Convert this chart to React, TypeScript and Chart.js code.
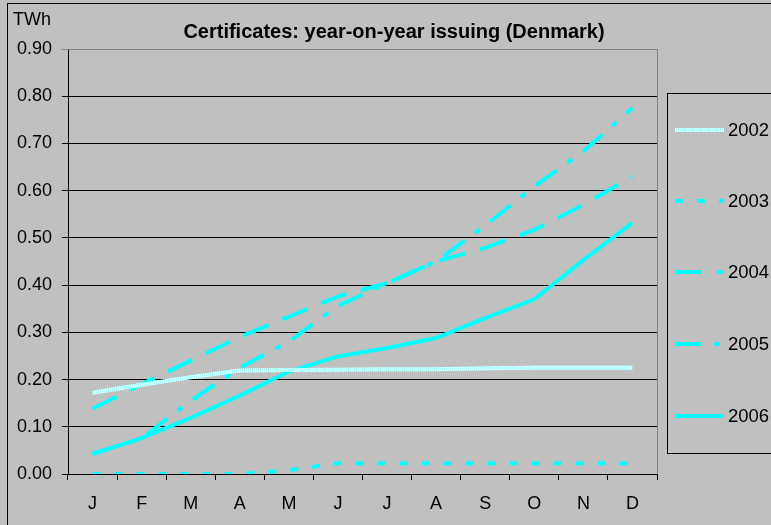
import React, { useEffect, useRef } from 'react';
import { Chart, registerables } from 'chart.js';

Chart.register(...registerables);

const months = ['J', 'F', 'M', 'A', 'M', 'J', 'J', 'A', 'S', 'O', 'N', 'D'];
const years = ['2002', '2003', '2004', '2005', '2006'];
const y2002 = [0.172, 0.189, 0.205, 0.219, 0.220, 0.221, 0.222, 0.222, 0.224, 0.225, 0.225, 0.225];
const y2003 = [0, 0, 0, 0, 0.008, 0.023, 0.023, 0.023, 0.023, 0.023, 0.023, 0.023];
const y2004 = [0.138, 0.19, 0.24, 0.29, 0.333, 0.376, 0.404, 0.45, 0.479, 0.517, 0.57, 0.63];
const y2005 = [0.043, 0.075, 0.155, 0.225, 0.28, 0.356, 0.404, 0.45, 0.526, 0.609, 0.683, 0.775];
const y2006 = [0.042, 0.076, 0.119, 0.166, 0.217, 0.249, 0.267, 0.288, 0.33, 0.37, 0.453, 0.532];
const yTicks = [0, 0.1, 0.2, 0.3, 0.4, 0.5, 0.6, 0.7, 0.8, 0.9];

const TITLE = 'Certificates: year-on-year issuing (Denmark)';
const UNIT = 'TWh';
const FONT = "'Liberation Sans', Arial, sans-serif";

export default function App() {
  const ref = useRef<HTMLCanvasElement | null>(null);

  useEffect(() => {
    const canvas = ref.current;
    if (!canvas) return;
    const pc = document.createElement('canvas');
    pc.width = 2;
    pc.height = 1;
    const pctx = pc.getContext('2d')!;
    pctx.fillStyle = '#b4ffff';
    pctx.fillRect(0, 0, 1, 1);
    pctx.fillStyle = '#ffffff';
    pctx.fillRect(1, 0, 1, 1);
    const hatch = canvas.getContext('2d')!.createPattern(pc, 'repeat');

    const series = [y2002, y2003, y2004, y2005, y2006];
    const dashes: number[][] = [[], [8, 14], [27, 15], [26, 13, 6, 13], []];
    const colors: any[] = [hatch, '#00ffff', '#00ffff', '#00ffff', '#00ffff'];

    const custom = {
      id: 'custom',
      beforeDraw(chart: any) {
        const ctx = chart.ctx;
        ctx.save();
        ctx.fillStyle = '#c0c0c0';
        ctx.fillRect(0, 0, chart.width, chart.height);
        ctx.restore();
      },
      afterDraw(chart: any) {
        const ctx = chart.ctx;
        const ca = chart.chartArea;
        ctx.save();
        // plot border top/right (gray)
        ctx.strokeStyle = '#808080';
        ctx.lineWidth = 1;
        ctx.beginPath();
        ctx.moveTo(ca.left, ca.top + 0.5);
        ctx.lineTo(ca.right + 0.5, ca.top + 0.5);
        ctx.lineTo(ca.right + 0.5, ca.bottom);
        ctx.stroke();
        // outer frame
        ctx.strokeStyle = '#000';
        ctx.strokeRect(7.5, 3.5, 900, 700);
        // title
        ctx.fillStyle = '#000';
        ctx.font = `bold 20px ${FONT}`;
        ctx.textAlign = 'center';
        ctx.textBaseline = 'middle';
        ctx.fillText(TITLE, 394, 32);
        // unit
        ctx.font = `18px ${FONT}`;
        ctx.textAlign = 'left';
        ctx.fillText(UNIT, 13, 20);
        // legend
        ctx.strokeStyle = '#000';
        ctx.strokeRect(667.5, 93.5, 300, 360);
        const ly = [130, 201, 272, 344, 416];
        chart.data.datasets.forEach((ds: any, i: number) => {
          ctx.save();
          ctx.strokeStyle = ds.borderColor;
          ctx.lineWidth = ds.borderWidth;
          ctx.setLineDash(ds.borderDash || []);
          ctx.lineCap = 'butt';
          ctx.beginPath();
          ctx.moveTo(675, ly[i]);
          ctx.lineTo(724, ly[i]);
          ctx.stroke();
          ctx.restore();
          ctx.fillStyle = '#000';
          ctx.font = `18.5px ${FONT}`;
          ctx.textAlign = 'left';
          ctx.textBaseline = 'middle';
          ctx.fillText(ds.label, 728, ly[i] + 1);
        });
        ctx.restore();
      },
    };

    const chart = new Chart(canvas, {
      type: 'line',
      data: {
        labels: months,
        datasets: years.map((y, i) => ({
          label: y,
          data: series[i],
          borderColor: colors[i],
          borderWidth: 4,
          borderDash: dashes[i],
          borderCapStyle: 'butt',
          pointRadius: 0,
          tension: 0,
          fill: false,
        })),
      },
      options: {
        animation: false,
        responsive: false,
        devicePixelRatio: 1,
        layout: { padding: { left: 0, top: 49, right: 114, bottom: 0 } },
        plugins: { legend: { display: false }, title: { display: false }, tooltip: { enabled: false } },
        scales: {
          x: {
            type: 'category',
            offset: true,
            grid: { display: true, drawOnChartArea: false, drawTicks: true, tickLength: 6, color: '#000', offset: true, lineWidth: 1 },
            border: { display: true, color: '#000', width: 1 },
            ticks: { color: '#000', font: { family: FONT, size: 18 }, padding: 13, maxRotation: 0, autoSkip: false },
            afterFit: (s: any) => { s.height = 51; },
          },
          y: {
            min: 0,
            max: 0.9,
            afterBuildTicks: (s: any) => { s.ticks = yTicks.map((v) => ({ value: v })); },
            grid: {
              color: (c: any) => (c.tick && c.tick.value >= 0.89 ? '#808080' : '#000'),
              lineWidth: 1,
              tickLength: 6,
              drawTicks: true,
            },
            border: { display: true, color: '#000', width: 1 },
            ticks: { color: '#000', font: { family: FONT, size: 18 }, padding: 10, callback: (v: any) => Number(v).toFixed(2) },
            afterFit: (s: any) => { s.width = 68; },
          },
        },
      },
      plugins: [custom],
    } as any);

    return () => chart.destroy();
  }, []);

  return (
    <div style={{ position: 'fixed', left: 0, top: 0, width: 771, height: 525, overflow: 'hidden', background: '#c0c0c0' }}>
      <canvas ref={ref} width={771} height={525} style={{ width: 771, height: 525, display: 'block' }} />
    </div>
  );
}
